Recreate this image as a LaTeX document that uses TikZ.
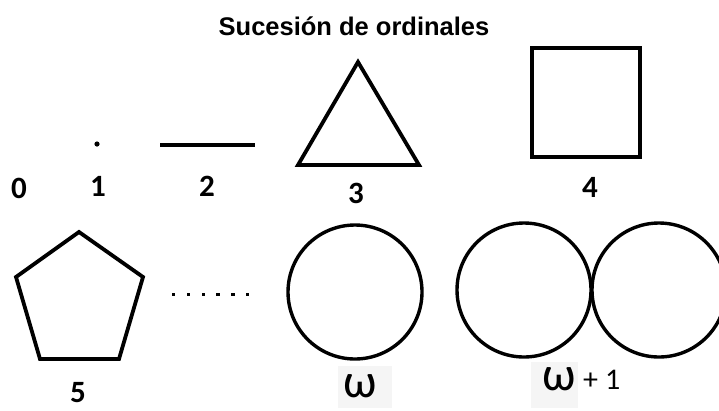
\documentclass[tikz,border=0pt]{standalone}
\usepackage{fontspec}
\setmainfont{Carlito}
\newfontfamily\titlefont{Liberation Sans}
\usetikzlibrary{positioning}

\tikzset{
  shape line/.style={line width=3.8pt, line join=miter},
  numlabel/.style={font=\fontsize{31}{34}\selectfont\bfseries, inner sep=0pt},
  omegalabel/.style={font=\fontsize{48}{52}\selectfont, inner sep=0pt},
}

\begin{document}
\begin{tikzpicture}[x=1pt, y=-1pt]
\useasboundingbox (0,0) rectangle (719,410);
% ---- title
\node[font=\titlefont\fontsize{25.5}{28}\selectfont\bfseries] (title) at (354,26) {Sucesión de ordinales};
% ---- first row: 0 to 4
\fill (97,144) circle (2.6);                                        % one point
\draw[shape line] (160,145) -- (255,145);                           % segment
\draw[shape line] (358,62) -- (298,165) -- (419,165) -- cycle;       % triangle
\draw[shape line] (532,48) rectangle (640,157);                     % square
\node[numlabel] (n0) at (19,188) {0};
\node[numlabel] (n1) at (98,186) {1};
\node[numlabel] (n2) at (207,186) {2};
\node[numlabel] (n3) at (356,193) {3};
\node[numlabel] (n4) at (590,187) {4};
% ---- second row: 5, dots, omega, omega+1
\draw[shape line] (79,232) -- (143,277) -- (119,359) -- (40,359) -- (16,277) -- cycle;
\node[numlabel] (n5) at (78,393) {5};
\foreach \i in {0,...,5}
  \fill (172+14.8*\i,293) rectangle ++(3.4,3.4);
\draw[line width=3.4pt] (355,292) circle (67);
\draw[line width=3.4pt] (524,290) circle (67);
\draw[line width=3.4pt] (659,290) circle (67);
\fill[black!4] (338,366) rectangle (392,408);
\fill[black!4] (531,362) rectangle (578,408);
\node[omegalabel] (omega) at (360,386) {ω};
\node[omegalabel] (omegab) at (559,379) {ω};
\node[font=\fontsize{30}{33}\selectfont, inner sep=0pt, right=7pt of omegab.east, yshift=-1pt] (plus) {+\hspace{7pt}1};
\end{tikzpicture}
\end{document}
